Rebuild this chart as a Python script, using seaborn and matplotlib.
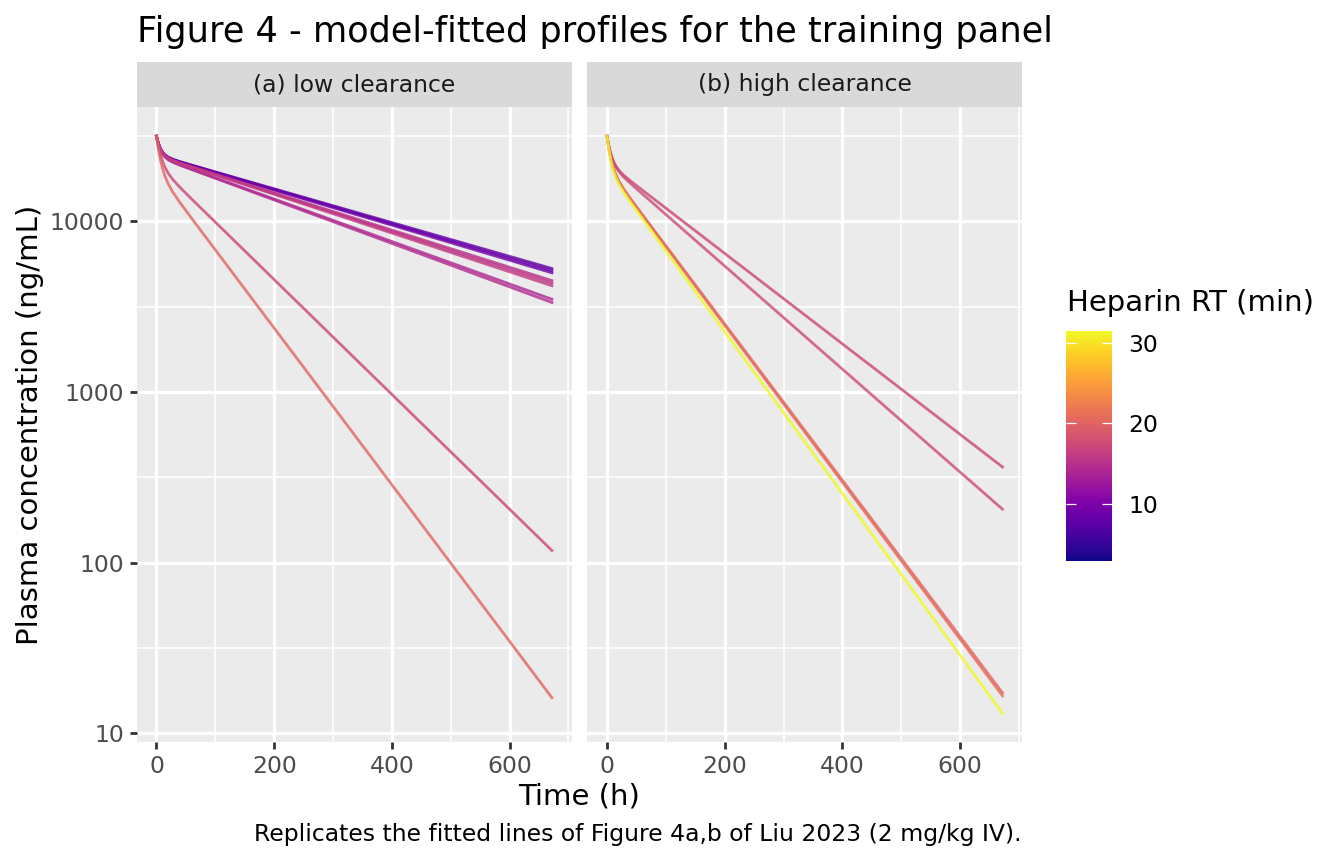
import numpy as np
import pandas as pd
import matplotlib
matplotlib.use("Agg")
import matplotlib.pyplot as plt
import matplotlib.ticker as mticker
from matplotlib.colors import Normalize
from matplotlib.cm import ScalarMappable
import seaborn as sns

# sampling times (h)
times = [0, 1, 2, 3, 5, 7, 10, 14, 20, 28, 40, 55, 80, 160, 320, 480, 672]

# (a) low clearance - heparin RT (min) of each line and fitted conc. (ng/mL)
low_rt = [8.0, 8.5, 9.0, 15.0, 15.5, 16.0, 14.0, 14.5, 17.2, 20.0]
low_conc = [
    [31600, 30555, 29649, 28860, 27575, 26596, 25532, 24600, 23762, 23092, 22384, 21617, 20418, 17016, 11819, 8210, 5300],
    [31600, 30554, 29647, 28857, 27570, 26589, 25522, 24586, 23742, 23064, 22346, 21566, 20348, 16900, 11658, 8042, 5150],
    [31600, 30553, 29644, 28854, 27565, 26582, 25511, 24571, 23721, 23036, 22306, 21514, 20277, 16782, 11495, 7874, 5000],
    [31600, 30522, 29586, 28773, 27443, 26431, 25327, 24355, 23473, 22760, 21997, 21169, 19880, 16264, 10885, 7285, 4500],
    [31600, 30521, 29584, 28769, 27437, 26422, 25315, 24339, 23450, 22728, 21953, 21110, 19800, 16133, 10711, 7112, 4350],
    [31600, 30520, 29581, 28765, 27431, 26414, 25303, 24321, 23426, 22695, 21907, 21050, 19718, 15999, 10534, 6936, 4200],
    [31600, 30472, 29493, 28641, 27246, 26182, 25018, 23987, 23041, 22264, 21420, 20503, 19084, 15175, 9595, 6067, 3500],
    [31600, 30471, 29490, 28636, 27238, 26172, 25003, 23966, 23012, 22224, 21365, 20430, 18985, 15018, 9398, 5881, 3350],
    [31600, 30203, 28957, 27844, 25956, 24430, 22649, 20927, 19164, 17572, 15826, 14048, 11567, 6224, 1801, 522, 118],
    [31600, 29826, 28260, 26874, 24551, 22707, 20595, 18596, 16598, 14821, 12892, 10971, 8421, 3618, 668, 123, 16.2],
]

# (b) high clearance
high_rt = [17.2, 17.6, 20.4, 20.8, 31.5]
high_conc = [
    [31600, 30129, 28845, 27722, 25874, 24439, 22840, 21375, 19950, 18689, 17259, 15731, 13503, 8288, 3122, 1176, 364],
    [31600, 30111, 28808, 27667, 25783, 24314, 22664, 21135, 19622, 18252, 16682, 15011, 12613, 7231, 2377, 781, 206],
    [31600, 29829, 28283, 26927, 24684, 22933, 20954, 19102, 17236, 15521, 13567, 11564, 8882, 3821, 707, 131, 17.3],
    [31600, 29809, 28244, 26873, 24607, 22839, 20842, 18977, 17107, 15391, 13443, 11450, 8784, 3764, 691, 127, 16.6],
    [31600, 29668, 27991, 26534, 24150, 22314, 20274, 18401, 16551, 14865, 12944, 10976, 8353, 3489, 609, 106, 13.1],
]

rt_limits = [2.9, 31.5]
panel_titles = ["(a) low clearance", "(b) high clearance"]
y_breaks = [10, 100, 1000, 10000]
x_breaks = [0, 200, 400, 600]


def to_long(rts, concs, panel):
    rows = []
    for i, (rt, cc) in enumerate(zip(rts, concs)):
        for t, c in zip(times, cc):
            rows.append({"panel": panel, "line": i, "rt": rt, "time": t, "conc": c})
    return pd.DataFrame(rows)


df_low = to_long(low_rt, low_conc, panel_titles[0])
df_high = to_long(high_rt, high_conc, panel_titles[1])
all_conc = pd.concat([df_low, df_high])["conc"]

W, H = 1344, 864
fig = plt.figure(figsize=(W / 100, H / 100), dpi=100)
plt.rcParams["font.family"] = ["DejaVu Sans"]

small, mid, big = 16.9, 21.0, 25.3
norm = Normalize(vmin=rt_limits[0], vmax=rt_limits[1])

# y limits like ggplot: 5% expansion in log space
lo, hi = np.log10(all_conc.min()), np.log10(all_conc.max())
pad = 0.05 * (hi - lo)
ylim = (10 ** (lo - pad), 10 ** (hi + pad))
xpad = 0.05 * (max(times) - min(times))
xlim = (min(times) - xpad, max(times) + xpad)

panel_left = [136.7, 587.3]
panel_w = 435.0
panel_top, panel_bot = 107.3, 742.3

for k, df in enumerate([df_low, df_high]):
    ax = fig.add_axes([panel_left[k] / W, 1 - panel_bot / H, panel_w / W,
                       (panel_bot - panel_top) / H])
    ax.set_facecolor("#EBEBEB")
    sns.lineplot(data=df, x="time", y="conc", hue="rt", units="line",
                 estimator=None, palette="plasma", hue_norm=norm,
                 legend=False, linewidth=2.0, alpha=0.8, ax=ax)
    ax.set_yscale("log")
    ax.set_ylim(ylim)
    ax.set_xlim(xlim)
    ax.yaxis.set_major_locator(mticker.FixedLocator(y_breaks))
    ax.yaxis.set_major_formatter(mticker.FixedFormatter([str(v) for v in y_breaks]))
    ax.yaxis.set_minor_locator(mticker.FixedLocator([10 ** (e + 0.5) for e in range(0, 5)]))
    ax.yaxis.set_minor_formatter(mticker.NullFormatter())
    ax.xaxis.set_major_locator(mticker.FixedLocator(x_breaks))
    ax.xaxis.set_minor_locator(mticker.MultipleLocator(100))
    ax.grid(which="major", color="white", linewidth=2.4)
    ax.grid(which="minor", color="white", linewidth=1.2)
    ax.set_axisbelow(True)
    for s in ax.spines.values():
        s.set_visible(False)
    ax.set_xlabel("")
    ax.set_ylabel("")
    ax.tick_params(which="major", length=5.0, width=2.0, color="#333333",
                   labelsize=small, labelcolor="#4D4D4D", pad=4.0)
    ax.tick_params(which="minor", length=0)
    if k == 1:
        ax.tick_params(axis="y", which="both", left=False, labelleft=False)

    # facet strip
    sax = fig.add_axes([panel_left[k] / W, 1 - panel_top / H, panel_w / W, 45.3 / H])
    sax.set_facecolor("#D9D9D9")
    sax.set_xticks([])
    sax.set_yticks([])
    for s in sax.spines.values():
        s.set_visible(False)
    sax.text(0.5, 0.5, panel_titles[k], ha="center", va="center",
             fontsize=small, color="#1A1A1A", transform=sax.transAxes)

# colour bar legend
cax = fig.add_axes([1066 / W, 1 - 561 / H, 46 / W, 230 / H])
sm = ScalarMappable(norm=norm, cmap="plasma")
cb = fig.colorbar(sm, cax=cax)
cb.outline.set_visible(False)
cb.set_ticks([10, 20, 30])
cax.tick_params(which="major", left=True, right=True, labelleft=False,
                labelright=True, direction="in", color="white", length=7,
                width=0.9, labelsize=small, labelcolor="black", pad=11.5)
cax.tick_params(which="minor", length=0)
fig.text(1067 / W, 1 - 303 / H, "Heparin RT (min)", ha="left", va="center",
         fontsize=mid, color="black")

# titles
fig.text(137 / W, 1 - 42 / H, "Figure 4 - model-fitted profiles for the training panel",
         ha="left", va="baseline", fontsize=big, color="black")
fig.text(579 / W, 1 - 797 / H, "Time (h)", ha="center", va="center",
         fontsize=mid, color="black")
fig.text(30 / W, 1 - 424.8 / H, "Plasma concentration (ng/mL)", ha="center",
         va="center", rotation=90, fontsize=mid, color="black")
fig.text(1021 / W, 1 - 835 / H,
         "Replicates the fitted lines of Figure 4a,b of Liu 2023 (2 mg/kg IV).",
         ha="right", va="center", fontsize=small, color="black")

fig.savefig("out.png", dpi=100)
